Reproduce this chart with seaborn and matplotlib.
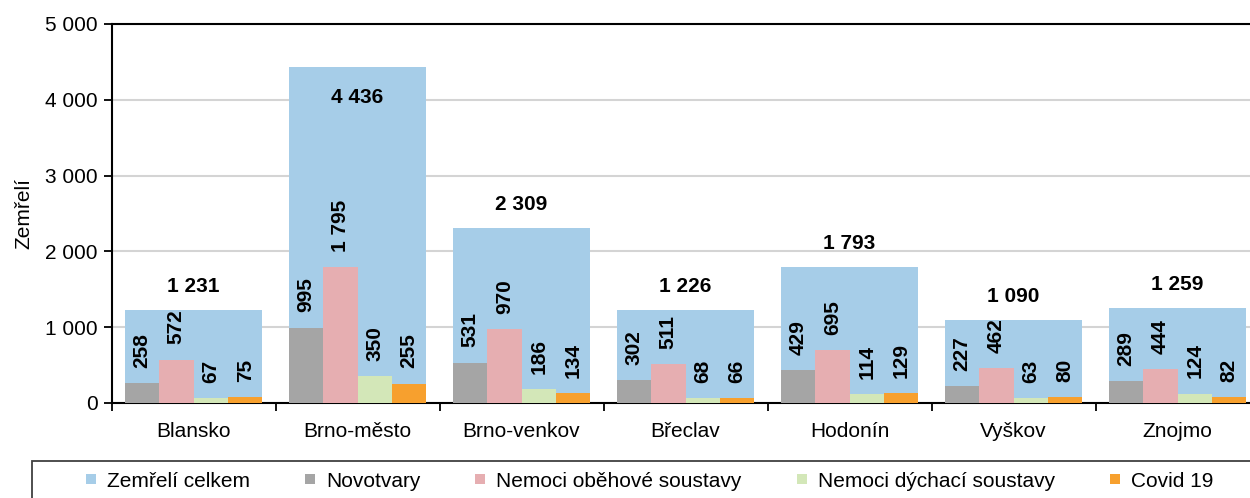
import pandas as pd
import matplotlib.pyplot as plt
import seaborn as sns
from matplotlib.lines import Line2D
from matplotlib.patches import Rectangle
from matplotlib.ticker import FuncFormatter, FixedLocator

# data
okresy = ["Blansko", "Brno-město", "Brno-venkov", "Břeclav", "Hodonín", "Vyškov", "Znojmo"]
celkem = [1231, 4436, 2309, 1226, 1793, 1090, 1259]
novotvary = [258, 995, 531, 302, 429, 227, 289]
obehove = [572, 1795, 970, 511, 695, 462, 444]
dychaci = [67, 350, 186, 68, 114, 63, 124]
covid = [75, 255, 134, 66, 129, 80, 82]

priciny = ["Novotvary", "Nemoci oběhové soustavy", "Nemoci dýchací soustavy", "Covid 19"]
barvy = ["#A5A5A5", "#E6AEB1", "#D3E7B8", "#F7A02E"]
modra = "#A6CDE8"

df = pd.DataFrame({
    "okres": okresy * 4,
    "pricina": [p for p in priciny for _ in okresy],
    "pocet": novotvary + obehove + dychaci + covid,
})

sns.set_theme(style="white")
plt.rcParams["font.family"] = ["Liberation Sans", "DejaVu Sans"]
plt.rcParams["font.size"] = 15
plt.rcParams["text.color"] = "black"
plt.rcParams["axes.labelcolor"] = "black"
plt.rcParams["xtick.color"] = "black"
plt.rcParams["ytick.color"] = "black"


def fmt(v):
    return f"{int(v):,}".replace(",", " ")


fig = plt.figure(figsize=(12.5, 4.98), dpi=100)
ax = fig.add_axes([111.5 / 1250, 1 - 403 / 498, 1148 / 1250, 379 / 498])

# celkem (wide bar behind)
sns.barplot(x=okresy, y=celkem, color=modra, width=0.84, saturation=1,
            linewidth=0, ax=ax, zorder=2)
# by cause
sns.barplot(data=df, x="okres", y="pocet", hue="pricina", hue_order=priciny,
            palette=barvy, width=0.84, gap=0, saturation=1, linewidth=0,
            legend=False, ax=ax, zorder=3)

# labels for totals
for i, v in enumerate(celkem):
    if v > 4000:
        ax.annotate(fmt(v), (i, v), xytext=(0, -15), textcoords="offset points",
                    ha="center", va="top", fontweight="bold", fontsize=15, color="black")
    else:
        ax.annotate(fmt(v), (i, v), xytext=(0, 10), textcoords="offset points",
                    ha="center", va="bottom", fontweight="bold", fontsize=15, color="black")

# labels for causes
for cont, vals in zip(ax.containers[1:], [novotvary, obehove, dychaci, covid]):
    ax.bar_label(cont, labels=[fmt(v) for v in vals], padding=11, rotation=90,
                 fontweight="bold", fontsize=15, color="black")

# axes
ax.set_ylim(0, 5000)
ax.set_xlim(-0.5, 6.5)
ax.yaxis.set_major_locator(FixedLocator([0, 1000, 2000, 3000, 4000, 5000]))
ax.yaxis.set_major_formatter(FuncFormatter(lambda v, p: fmt(v)))
ax.grid(axis="y", color="#D4D4D4", linewidth=1.5, zorder=0)
ax.set_axisbelow(True)
ax.set_xlabel("")
ax.set_ylabel("Zemřelí", fontsize=15, labelpad=8)

ax.xaxis.set_minor_locator(FixedLocator([i - 0.5 for i in range(8)]))
ax.tick_params(axis="x", which="major", length=0, pad=14, labelsize=15)
ax.tick_params(axis="x", which="minor", bottom=True, length=6, width=1.3, color="black", direction="out")
ax.tick_params(axis="y", left=True, length=6, width=1.3, color="black", direction="out", labelsize=15, pad=4)

for s in ["left", "bottom", "top"]:
    ax.spines[s].set_visible(True)
    ax.spines[s].set_color("black")
    ax.spines[s].set_linewidth(1.5)
ax.spines["right"].set_visible(False)

# legend frame (cut by figure edge)
fig.patches.append(Rectangle((32 / 1250, -0.05), 1.0, 1 - 461 / 498 + 0.05,
                             transform=fig.transFigure, fill=False,
                             edgecolor="#404040", linewidth=1.3))
handles = [Line2D([], [], marker="s", linestyle="none", markersize=7.5,
                  markerfacecolor=c, markeredgewidth=0)
           for c in [modra] + barvy]
labels = ["Zemřelí celkem"] + priciny
fig.legend(handles, labels, loc="center left", ncol=5,
           bbox_to_anchor=(85 / 1250, 1 - 481 / 498),
           frameon=False, fontsize=15, handlelength=0.55, handletextpad=0.5,
           columnspacing=2.6, borderpad=0, borderaxespad=0)

fig.savefig("out.png", dpi=100)
